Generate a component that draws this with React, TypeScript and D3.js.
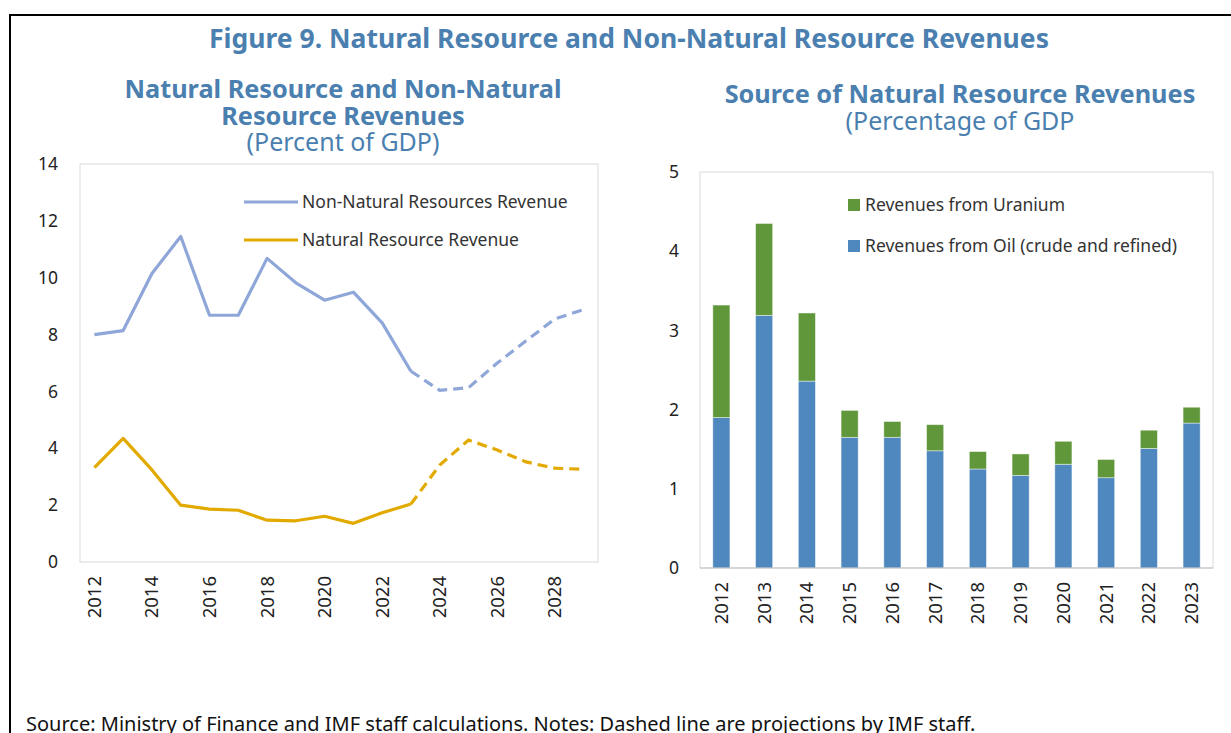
import React from "react";
import * as d3 from "d3";

// ---------- Data ----------
const lineYears = [2012, 2013, 2014, 2015, 2016, 2017, 2018, 2019, 2020, 2021, 2022, 2023, 2024, 2025, 2026, 2027, 2028, 2029];
const nonNaturalRevenue = [8.0, 8.14, 10.15, 11.45, 8.68, 8.68, 10.68, 9.82, 9.21, 9.49, 8.41, 6.71, 6.04, 6.13, 7.0, 7.78, 8.55, 8.88];
const naturalRevenue = [3.32, 4.35, 3.24, 2.0, 1.86, 1.82, 1.47, 1.45, 1.61, 1.36, 1.73, 2.04, 3.41, 4.29, 3.94, 3.52, 3.3, 3.26];
const lastActualYear = 2023;
const leftYTicks = [0, 2, 4, 6, 8, 10, 12, 14];
const leftXTickYears = [2012, 2014, 2016, 2018, 2020, 2022, 2024, 2026, 2028];

const barYears = ["2012", "2013", "2014", "2015", "2016", "2017", "2018", "2019", "2020", "2021", "2022", "2023"];
const oilRevenue = [1.9, 3.19, 2.36, 1.65, 1.65, 1.48, 1.25, 1.17, 1.31, 1.14, 1.51, 1.83];
const uraniumRevenue = [1.42, 1.16, 0.86, 0.34, 0.2, 0.33, 0.22, 0.27, 0.29, 0.23, 0.23, 0.2];
const rightYTicks = [0, 1, 2, 3, 4, 5];

const FONT = "'Noto Sans', 'Open Sans', sans-serif";
const TITLE_BLUE = "#4A7FAF";
const NON_NAT_COLOR = "#8EA6D8";
const NAT_COLOR = "#E2AA00";
const OIL_COLOR = "#4E88BE";
const URANIUM_COLOR = "#61973B";

function LeftChart() {
  const L = 80, R = 598, T = 164, B = 562;
  const x = d3.scaleBand<number>().domain(lineYears).range([L, R]).padding(0);
  const y = d3.scaleLinear().domain([0, 14]).range([B, T]);
  const cx = (yr: number) => (x(yr) as number) + x.bandwidth() / 2;
  const pts = (vals: number[]) => lineYears.map((yr, i) => ({ yr, v: vals[i] }));
  const line = d3.line<{ yr: number; v: number }>().x((d) => cx(d.yr)).y((d) => y(d.v));
  const solid = (vals: number[]) => line(pts(vals).filter((d) => d.yr <= lastActualYear)) || "";
  const dashed = (vals: number[]) => line(pts(vals).filter((d) => d.yr >= lastActualYear)) || "";
  return (
    <g>
      <text x={343} y={98} textAnchor="middle" fontFamily={FONT} fontWeight={700} fontSize={25.3} fill={TITLE_BLUE}>Natural Resource and Non-Natural</text>
      <text x={343} y={125} textAnchor="middle" fontFamily={FONT} fontWeight={700} fontSize={25.3} fill={TITLE_BLUE}>Resource Revenues</text>
      <text x={343} y={151} textAnchor="middle" fontFamily={FONT} fontWeight={400} fontSize={25} fill={TITLE_BLUE}>(Percent of GDP)</text>
      <rect x={L} y={T} width={R - L} height={B - T} fill="none" stroke="#D9D9D9" strokeWidth={1} />
      {leftYTicks.map((t) => (
        <text key={t} x={58} y={y(t)} dy="0.35em" textAnchor="end" fontFamily={FONT} fontSize={17.5} fill="#222">{t}</text>
      ))}
      {leftXTickYears.map((yr) => (
        <text key={yr} transform={`translate(${cx(yr)},${B + 14}) rotate(-90)`} dy="0.35em" textAnchor="end" fontFamily={FONT} fontSize={18.5} fill="#222">{yr}</text>
      ))}
      <path d={solid(nonNaturalRevenue)} fill="none" stroke={NON_NAT_COLOR} strokeWidth={3.2} strokeLinejoin="round" />
      <path d={dashed(nonNaturalRevenue)} fill="none" stroke={NON_NAT_COLOR} strokeWidth={3.2} strokeDasharray="10,6" />
      <path d={solid(naturalRevenue)} fill="none" stroke={NAT_COLOR} strokeWidth={3.2} strokeLinejoin="round" />
      <path d={dashed(naturalRevenue)} fill="none" stroke={NAT_COLOR} strokeWidth={3.2} strokeDasharray="10,6" />
      <line x1={244} x2={298} y1={202} y2={202} stroke={NON_NAT_COLOR} strokeWidth={3.2} />
      <text x={302} y={202} dy="0.35em" fontFamily={FONT} fontSize={17.5} fill="#333">Non-Natural Resources Revenue</text>
      <line x1={244} x2={298} y1={240} y2={240} stroke={NAT_COLOR} strokeWidth={3.2} />
      <text x={302} y={240} dy="0.35em" fontFamily={FONT} fontSize={17.5} fill="#333">Natural Resource Revenue</text>
    </g>
  );
}

function RightChart() {
  const L = 700, R = 1213, T = 172, B = 568;
  const x = d3.scaleBand<string>().domain(barYears).range([L, R]).paddingInner(0.6).paddingOuter(0.3);
  const y = d3.scaleLinear().domain([0, 5]).range([B, T]);
  const rows = barYears.map((yr, i) => ({ yr, oil: oilRevenue[i], uranium: uraniumRevenue[i] }));
  const stack = d3.stack<{ yr: string; oil: number; uranium: number }>().keys(["oil", "uranium"]);
  const series = stack(rows);
  const colors = [OIL_COLOR, URANIUM_COLOR];
  return (
    <g>
      <text x={960} y={103} textAnchor="middle" fontFamily={FONT} fontWeight={700} fontSize={25.3} fill={TITLE_BLUE}>Source of Natural Resource Revenues</text>
      <text x={960} y={130} textAnchor="middle" fontFamily={FONT} fontWeight={400} fontSize={25} fill={TITLE_BLUE}>(Percentage of GDP</text>
      <rect x={L} y={T} width={R - L} height={B - T} fill="none" stroke="#D9D9D9" strokeWidth={1} />
      {rightYTicks.map((t) => (
        <text key={t} x={679} y={y(t)} dy="0.35em" textAnchor="end" fontFamily={FONT} fontSize={17.5} fill="#222">{t}</text>
      ))}
      {series.map((s, si) => (
        <g key={s.key}>
          {s.map((d, i) => (
            <rect key={i} x={x(d.data.yr)} y={y(d[1])} width={x.bandwidth()} height={y(d[0]) - y(d[1])}
              fill={colors[si]} stroke="rgba(255,255,255,0.55)" strokeWidth={0.8} />
          ))}
        </g>
      ))}
      <line x1={L} x2={R} y1={B} y2={B} stroke="#BFBFBF" strokeWidth={1} />
      {barYears.map((yr) => (
        <text key={yr} transform={`translate(${(x(yr) as number) + x.bandwidth() / 2},${B + 14}) rotate(-90)`} dy="0.35em" textAnchor="end" fontFamily={FONT} fontSize={18.5} fill="#222">{yr}</text>
      ))}
      <rect x={848} y={199} width={12} height={12} fill={URANIUM_COLOR} />
      <text x={865} y={205} dy="0.35em" fontFamily={FONT} fontSize={17.5} fill="#333">Revenues from Uranium</text>
      <rect x={848} y={240} width={12} height={12} fill={OIL_COLOR} />
      <text x={865} y={246} dy="0.35em" fontFamily={FONT} fontSize={17.5} fill="#333">Revenues from Oil (crude and refined)</text>
    </g>
  );
}

export default function App() {
  return (
    <svg width={1231} height={733} style={{ position: "absolute", left: 0, top: 0, background: "#fff" }}>
      <rect x={0} y={0} width={1231} height={733} fill="#fff" />
      <rect x={10} y={15} width={1240} height={740} fill="none" stroke="#000" strokeWidth={2} />
      <text x={629} y={48} textAnchor="middle" fontFamily={FONT} fontWeight={700} fontSize={26.5} fill={TITLE_BLUE}>
        Figure 9. Natural Resource and Non-Natural Resource Revenues
      </text>
      <LeftChart />
      <RightChart />
      <text x={26} y={731} fontFamily={FONT} fontSize={20} fill="#111">
        Source: Ministry of Finance and IMF staff calculations. Notes: Dashed line are projections by IMF staff.
      </text>
    </svg>
  );
}
